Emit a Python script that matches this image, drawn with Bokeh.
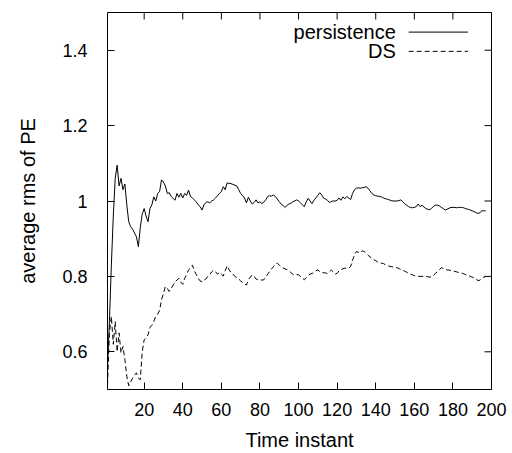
from bokeh.plotting import figure
from bokeh.models import Range1d, FixedTicker, CustomJSTickFormatter, Label, Arrow
from bokeh.embed import file_html
from bokeh.resources import INLINE

time_instant = list(range(1, 198))

persistence = [
    0.56, 0.68, 0.83, 0.96, 1.06, 1.095, 1.04, 1.06, 1.03, 1.045,
    0.99, 0.945, 0.932, 0.925, 0.915, 0.905, 0.879, 0.93, 0.965, 0.98,
    0.96, 0.945, 0.98, 0.99, 1.011, 1.0, 1.02, 1.025, 1.056, 1.05,
    1.04, 1.02, 1.022, 1.012, 1.007, 1.002, 1.02, 1.01, 1.02, 1.008,
    1.02, 1.015, 1.029, 1.012, 1.008, 1.003, 0.998, 0.99, 0.985, 0.976,
    0.99, 0.996, 0.998, 0.995, 1.0, 1.003, 1.008, 1.014, 1.02, 1.025,
    1.038, 1.03, 1.048, 1.047, 1.046, 1.044, 1.042, 1.04, 1.03, 1.02,
    1.014, 1.008, 0.995, 1.01, 1.0, 0.992, 0.996, 1.003, 0.995, 0.998,
    0.993, 0.997, 1.003, 1.012, 1.014, 1.013, 1.016, 1.012, 1.005, 0.998,
    0.992, 0.988, 0.983, 0.988, 0.992, 0.994, 0.998, 1.0, 1.003, 1.0,
    0.995, 0.99, 0.985, 0.998, 1.007, 1.0, 0.993, 1.002, 1.008, 1.015,
    1.022, 1.016, 1.008, 1.005, 1.002, 0.996, 0.999, 1.0, 1.0, 1.002,
    1.008, 1.002, 1.011, 1.006, 1.012, 1.008, 1.004, 1.02, 1.03, 1.034,
    1.035, 1.034, 1.035, 1.036, 1.038, 1.034, 1.027, 1.02, 1.016, 1.014,
    1.013, 1.012, 1.011, 1.008, 1.006, 1.005, 1.003, 1.001, 1.0, 1.0,
    1.0, 1.001, 1.003, 0.998, 0.993, 0.989, 0.985, 0.983, 0.982, 0.983,
    0.985, 0.992, 0.985, 0.989, 0.984, 0.98, 0.978, 0.977, 0.981, 0.986,
    0.989, 0.989, 0.987, 0.983, 0.98, 0.976, 0.978, 0.981, 0.983, 0.983,
    0.983, 0.982, 0.983, 0.983, 0.983, 0.981, 0.979, 0.978, 0.976, 0.974,
    0.972, 0.969, 0.967, 0.969, 0.974, 0.974, 0.974,
]

ds = [
    0.51, 0.65, 0.694, 0.62, 0.68, 0.60, 0.65, 0.597, 0.614, 0.58,
    0.535, 0.51, 0.52, 0.53, 0.539, 0.544, 0.53, 0.526, 0.60, 0.632,
    0.637, 0.645, 0.665, 0.67, 0.68, 0.694, 0.70, 0.71, 0.738, 0.755,
    0.773, 0.768, 0.76, 0.768, 0.777, 0.786, 0.79, 0.795, 0.785, 0.779,
    0.795, 0.805, 0.817, 0.822, 0.83, 0.815, 0.805, 0.795, 0.788, 0.786,
    0.79, 0.793, 0.8, 0.805, 0.812, 0.817, 0.812, 0.806, 0.81, 0.806,
    0.801, 0.815, 0.828, 0.818, 0.81, 0.806, 0.8, 0.797, 0.793, 0.788,
    0.784, 0.78, 0.777, 0.791, 0.798, 0.804, 0.8, 0.793, 0.791, 0.792,
    0.79, 0.791, 0.798, 0.806, 0.813, 0.82, 0.826, 0.833, 0.835, 0.83,
    0.826, 0.822, 0.82, 0.818, 0.815, 0.81, 0.806, 0.804, 0.805, 0.804,
    0.8, 0.795, 0.791, 0.797, 0.802, 0.806, 0.808, 0.81, 0.815, 0.817,
    0.813, 0.81, 0.81, 0.809, 0.808, 0.812, 0.817, 0.812, 0.806, 0.808,
    0.815, 0.818, 0.82, 0.822, 0.822, 0.822, 0.826, 0.844, 0.856, 0.866,
    0.864, 0.862, 0.868, 0.866, 0.862, 0.856, 0.852, 0.848, 0.844, 0.842,
    0.838, 0.836, 0.835, 0.834, 0.831, 0.829, 0.827, 0.826, 0.825, 0.824,
    0.823, 0.821, 0.818, 0.816, 0.814, 0.811, 0.808, 0.806, 0.804, 0.802,
    0.801, 0.8, 0.8, 0.8, 0.8, 0.8, 0.799, 0.798, 0.799, 0.803,
    0.808, 0.813, 0.818, 0.823, 0.821, 0.819, 0.817, 0.817, 0.815, 0.814,
    0.813, 0.812, 0.81, 0.809, 0.808, 0.806, 0.804, 0.802, 0.8, 0.798,
    0.796, 0.793, 0.789, 0.79, 0.795, 0.798, 0.8,
]

x_ticks = [20, 40, 60, 80, 100, 120, 140, 160, 180, 200]
y_ticks = [0.6, 0.8, 1.0, 1.2, 1.4]
series_names = ["persistence", "DS"]

FONT = "Liberation Sans"
X0, X1, Y0, Y1 = 1, 200, 0.5, 1.5
FW, FH = 384, 377      # frame size in px
TICK = 7               # tick length in px

p = figure(width=512, height=453, output_backend="svg", toolbar_location=None,
           x_range=Range1d(X0, X1), y_range=Range1d(Y0, Y1),
           x_axis_label="Time instant", y_axis_label="average rms of PE",
           min_border_left=107, min_border_right=21, min_border_top=12, min_border_bottom=64)
p.grid.visible = False
p.outline_line_color = "black"
p.outline_line_width = 1
p.background_fill_color = "white"
p.border_fill_color = "white"

fmt = CustomJSTickFormatter(code="var s = tick.toFixed(1); return s.replace(/\\.0$/, '');")

for ax in p.xaxis:
    ax.ticker = FixedTicker(ticks=x_ticks)
for ax in p.yaxis:
    ax.ticker = FixedTicker(ticks=y_ticks)
    ax.formatter = fmt

for ax in list(p.xaxis) + list(p.yaxis):
    ax.major_tick_in = TICK
    ax.major_tick_out = 0
    ax.minor_tick_in = 0
    ax.minor_tick_out = 0
    ax.axis_line_color = None
    ax.major_tick_line_color = "black"
    ax.major_label_text_font = FONT
    ax.major_label_text_font_size = "18px"
    ax.major_label_text_color = "black"
    ax.axis_label_text_font = FONT
    ax.axis_label_text_font_size = "20px"
    ax.axis_label_text_font_style = "normal"
    ax.axis_label_text_color = "black"
p.xaxis.major_label_standoff = 13
p.xaxis.axis_label_standoff = 10
p.yaxis.major_label_standoff = 20
p.yaxis.axis_label_standoff = 20

# mirrored inward ticks on the top and right edges of the frame
dy = TICK * (Y1 - Y0) / FH
dx = TICK * (X1 - X0) / FW
p.segment(x0=x_ticks, y0=[Y1] * len(x_ticks), x1=x_ticks, y1=[Y1 - dy] * len(x_ticks),
          line_color="black", line_width=1)
p.segment(x0=[X1] * len(y_ticks), y0=y_ticks, x1=[X1 - dx] * len(y_ticks), y1=y_ticks,
          line_color="black", line_width=1)

p.line(time_instant, persistence, line_color="black", line_width=1)
p.line(time_instant, ds, line_color="black", line_width=1, line_dash="5 3")

# legend (gnuplot style: text then sample line)
leg_rows = [(1.448, None), (1.397, "5 3")]
for name, (yy, dash) in zip(series_names, leg_rows):
    p.add_layout(Label(x=150.4, y=yy, text=name, text_align="right", text_baseline="middle",
                       text_font=FONT, text_font_size="20px", text_color="black"))
    kw = dict(x_start=157.1, y_start=yy, x_end=187.8, y_end=yy, start=None, end=None,
              line_color="black", line_width=1)
    if dash:
        kw["line_dash"] = dash
    p.add_layout(Arrow(**kw))

open("out.html", "w").write(file_html(p, INLINE))
